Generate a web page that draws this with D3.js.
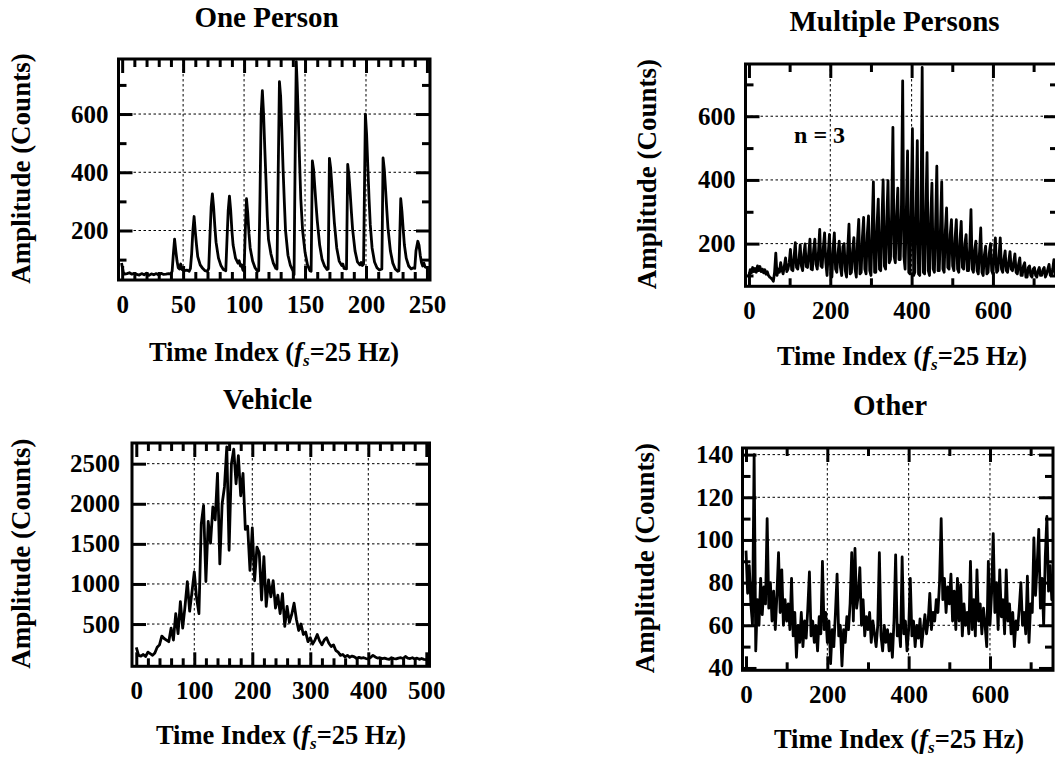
<!DOCTYPE html>
<html>
<head>
<meta charset="utf-8">
<script src="https://cdn.jsdelivr.net/npm/d3@7"></script>
<style>
  html, body { margin: 0; padding: 0; background: #fff; overflow: hidden; }
  svg { display: block; }
  text { font-family: "Liberation Serif", "Times New Roman", Times, serif; font-weight: bold; fill: #000; }
</style>
</head>
<body>
<div id="chart"></div>
<script>
// One Person: vertices [time index, counts]
var onePerson = [
  [-0.5,88],[1,55],[2,50],[4,52],[6,55],[8,50],[10,53],[12,49],[14,47],[16,52],[18,48],[20,53],[22,46],[24,51],[26,48],[28,52],[30,47],[32,53],[34,49],[36,50],[38,52],[40,51],
  [41,60],[42,120],[43,170],[44,130],[45,95],[46,72],[47,68],[48,85],[49,66],[51,62],[53,64],[55,60],[56,70],
  [57,120],[58,200],[59,248],[60,195],[61,150],[62,110],[64,82],[66,70],[68,62],[70,60],[71,70],
  [72,180],[73,280],[74,326],[75,280],[76,215],[77,160],[79,105],[81,80],[83,66],[85,62],
  [86,170],[87,270],[88,318],[89,270],[90,200],[91,150],[93,105],[95,88],[96,96],[97,78],[98,82],[99,65],[100,60],
  [101,200],[102,309],[103,260],[104,190],[105,140],[107,95],[109,72],[111,60],[112,62],
  [113,300],[114,600],[115,680],[116,600],[117,480],[118,370],[119,250],[120,170],[122,120],[124,88],[126,70],[127,68],
  [128,400],[129,711],[130,660],[131,540],[132,410],[133,300],[134,200],[136,115],[138,80],[140,62],[141,48],
  [142,500],[142.8,780],[143.5,710],[144.5,585],[145.5,440],[146.5,310],[148,200],[150,125],[152,82],[154,62],[155,60],
  [156,439],[157,410],[158,350],[159,290],[160,235],[162,150],[164,100],[166,78],[168,66],[169,68],
  [170,448],[171,415],[172,355],[173,290],[174,230],[176,140],[178,95],[180,80],[181,85],[182,70],[184,68],
  [185,427],[186,390],[187,330],[188,265],[189,205],[191,130],[193,92],[195,82],[196,90],[197,80],[198,84],
  [199.5,600],[200.5,530],[201.5,420],[202.5,310],[203.5,220],[205,140],[207,92],[209,72],[211,64],[213,68],
  [214,449],[215,410],[216,345],[217,275],[218,210],[220,130],[222,88],[224,68],[226,60],[227,62],
  [228.5,309],[229.5,265],[230.5,205],[231.5,150],[233,105],[235,78],[237,68],[239,72],[240,70],
  [241,130],[242.5,163],[243.5,150],[244.5,115],[245.5,90],[246.5,78],[247.5,88],[248.5,75],[250,72]
];

// Multiple Persons: counts every 3 samples, t = 0, 3, ..., 756
var multiStep = 3;
var multiAmp = [
  100,118,108,125, 112,122,110,130, 115,128,112,120, 108,118,104,112, 100,95,92,88,
  82,110,170,100, 120,110,140,118, 105,130,155,112, 120,140,182,118, 115,160,203,125,
  120,150,196,130, 115,165,199,128, 125,170,214,120, 118,180,214,135, 120,175,245,130,
  125,190,234,140, 100,170,229,110, 95,185,234,120, 110,170,208,125, 100,190,200,115,
  95,185,261,105, 110,180,219,120, 95,210,276,105, 110,220,282,120, 105,230,287,115,
  100,250,394,110, 110,260,340,120, 115,270,400,130, 120,280,398,140, 150,300,565,160,
  140,290,374,150, 150,320,711,160, 120,300,491,110, 105,320,561,100, 110,300,523,105,
  100,280,753,110, 105,300,486,115, 100,280,390,120, 110,260,443,115, 115,250,394,120,
  110,240,312,125, 120,230,275,130, 115,220,275,120, 110,210,270,125, 120,200,228,115,
  115,190,307,120, 110,180,208,115, 105,175,249,110, 100,165,192,105, 110,170,200,115,
  105,165,218,110, 115,160,218,120, 110,150,177,115, 110,145,175,120, 115,140,168,110,
  105,135,155,100, 100,130,140,95, 95,125,130,100, 95,120,125,100, 95,115,125,100,
  100,118,125,95, 105,120,135,100, 100,120,150,105, 115
];

// Vehicle: counts every 4 samples, t = 0, 4, ..., 500
var vehicleStep = 4;
var vehicleAmp = [
  210,110,100,120,95,150,130,110,140,210,240,350,320,300,280,450,300,630,380,780,450,720,1030,660,900,
  1150,820,630,1750,1980,1030,1780,1510,1960,1800,2380,1250,2000,2210,2710,1420,2500,2680,2250,2600,2100,2380,1680,1720,1170,
  1700,1040,1460,1390,800,1340,720,1050,840,1040,700,860,630,880,470,720,520,620,760,560,420,500,370,400,280,
  330,250,300,370,290,240,300,330,260,220,240,170,150,110,120,90,110,85,100,90,70,85,75,80,70,
  65,85,110,90,75,80,70,75,65,60,80,70,65,75,80,70,95,75,70,80,65,75,60,70,60,55
];

// Other: counts every 4 samples, t = 0, 4, ..., 756
var otherStep = 4;
var otherAmp = [
  95,75,88,70,60,140,48,72,60,82,65,78,70,110,68,80,62,76,58,74,94,66,86,60,72,
  62,70,58,82,55,66,45,60,52,66,50,62,54,68,85,55,62,52,60,48,64,56,90,58,66,
  52,62,42,58,50,66,84,55,60,41,58,52,64,58,70,94,62,96,68,74,87,60,72,55,64,
  58,66,52,62,56,50,60,94,55,48,60,52,58,48,56,45,62,93,55,60,50,92,56,62,48,
  58,82,55,62,50,60,54,63,50,58,65,56,62,75,58,66,62,72,66,80,110,72,82,66,78,
  70,84,62,76,58,82,62,79,55,70,60,66,56,90,58,72,55,86,62,70,56,68,60,50,90,
  60,75,103,66,80,58,86,64,72,56,86,62,70,56,66,50,62,58,68,80,60,66,56,83,52,
  70,66,101,74,88,105,68,82,60,92,111,76,88,72,84
];

var onePersonXTicks = [0, 50, 100, 150, 200, 250];
var onePersonYTicks = [200, 400, 600];
var multiXTicks = [0, 200, 400, 600];
var multiYTicks = [200, 400, 600];
var vehicleXTicks = [0, 100, 200, 300, 400, 500];
var vehicleYTicks = [500, 1000, 1500, 2000, 2500];
var otherXTicks = [0, 200, 400, 600];
var otherYTicks = [40, 60, 80, 100, 120, 140];

function stepped(arr, step) {
  return arr.map(function(v, i) { return [i * step, v]; });
}

var svg = d3.select('#chart').append('svg')
  .attr('width', 1055)
  .attr('height', 759);

var panels = [
  {id: 'p1', title: 'One Person', data: onePerson,
   left: 118.5, right: 430, top: 59, bottom: 280,
   xDomain: [-3, 252.5], yDomain: [30, 789],
   xTicks: onePersonXTicks, xMinor: 10, yTicks: onePersonYTicks, yMinor: 100,
   xGrid: [50, 100, 150, 200], yGrid: [200, 400, 600],
   titleX: 266.5, titleY: 27, yLabX: 30, xLabX: 274, xLabY: 361, yPad: 10},
  {id: 'p2', title: 'Multiple Persons', data: stepped(multiAmp, multiStep),
   left: 745.5, right: 1058, top: 64, bottom: 286.3,
   xDomain: [-8.5, 760], yDomain: [66, 764],
   xTicks: multiXTicks, xMinor: 100, yTicks: multiYTicks, yMinor: 100,
   xGrid: [200, 400, 600], yGrid: [200, 400, 600],
   titleX: 894.5, titleY: 31, yLabX: 656, xLabX: 902, xLabY: 365, yPad: 10,
   note: {text: 'n = 3', x: 111, y: 517}},
  {id: 'p3', title: 'Vehicle', data: stepped(vehicleAmp, vehicleStep),
   left: 132, right: 429.5, top: 443, bottom: 666.3,
   xDomain: [-7.4, 505.5], yDomain: [-27, 2758],
   xTicks: vehicleXTicks, xMinor: 20, yTicks: vehicleYTicks, yMinor: null,
   xGrid: [100, 200, 300, 400], yGrid: [500, 1000, 1500, 2000, 2500],
   titleX: 267.5, titleY: 409, yLabX: 30, xLabX: 281, xLabY: 744, yPad: 12},
  {id: 'p4', title: 'Other', data: stepped(otherAmp, otherStep),
   left: 742.5, right: 1053, top: 448, bottom: 670.3,
   xDomain: [-8.6, 755], yDomain: [38.9, 143.1],
   xTicks: otherXTicks, xMinor: 100, yTicks: otherYTicks, yMinor: 10,
   xGrid: [200, 400, 600], yGrid: [60, 80, 100, 120, 140],
   titleX: 890, titleY: 415, yLabX: 654, xLabX: 899, xLabY: 748, yPad: 9}
];

panels.forEach(drawPanel);

function minorTicks(domain, step, major) {
  if (!step) return [];
  return d3.range(Math.ceil(domain[0] / step) * step, domain[1] + 1e-9, step)
    .filter(function(v) { return major.indexOf(v) < 0; });
}

function drawPanel(p) {
  var g = svg.append('g').attr('class', 'panel');
  var x = d3.scaleLinear().domain(p.xDomain).range([p.left, p.right]);
  var y = d3.scaleLinear().domain(p.yDomain).range([p.bottom, p.top]);
  var w = p.right - p.left, h = p.bottom - p.top;

  g.append('clipPath').attr('id', 'clip-' + p.id)
    .append('rect')
      .attr('x', p.left).attr('y', p.top)
      .attr('width', w).attr('height', h);

  // dotted grid
  g.selectAll('.vgrid').data(p.xGrid).enter()
    .append('line')
      .attr('x1', function(d) { return x(d); })
      .attr('x2', function(d) { return x(d); })
      .attr('y1', p.top).attr('y2', p.bottom)
      .style('stroke', '#000').style('stroke-width', 1)
      .style('stroke-dasharray', '2.5,2.5');
  g.selectAll('.hgrid').data(p.yGrid).enter()
    .append('line')
      .attr('y1', function(d) { return y(d); })
      .attr('y2', function(d) { return y(d); })
      .attr('x1', p.left).attr('x2', p.right)
      .style('stroke', '#000').style('stroke-width', 1)
      .style('stroke-dasharray', '2.5,2.5');

  var line = d3.line()
    .x(function(d) { return x(d[0]); })
    .y(function(d) { return y(d[1]); });

  g.append('path')
    .datum(p.data)
    .attr('clip-path', 'url(#clip-' + p.id + ')')
    .attr('d', line)
    .style('fill', 'none')
    .style('stroke', '#000')
    .style('stroke-width', 2.8)
    .style('stroke-linejoin', 'round');

  var xMin = minorTicks(p.xDomain, p.xMinor, p.xTicks);
  var yMin = minorTicks(p.yDomain, p.yMinor, p.yTicks);
  var fmt = d3.format('d');

  function addAxis(axis, tx, ty, labels) {
    var a = g.append('g')
      .attr('transform', 'translate(' + tx + ',' + ty + ')')
      .call(axis);
    a.select('.domain').remove();
    a.selectAll('.tick line').style('stroke-width', 3);
    if (labels) {
      a.selectAll('.tick text')
        .style('font-family', '"Liberation Serif", "Times New Roman", serif')
        .style('font-weight', 'bold')
        .style('font-size', '25px')
        .style('fill', '#000');
    } else {
      a.selectAll('.tick text').remove();
    }
  }

  addAxis(d3.axisBottom(x).tickValues(p.xTicks).tickFormat(fmt).tickSize(-14).tickPadding(15), 0, p.bottom, true);
  addAxis(d3.axisTop(x).tickValues(p.xTicks).tickSize(-14), 0, p.top, false);
  addAxis(d3.axisBottom(x).tickValues(xMin).tickSize(-8), 0, p.bottom, false);
  addAxis(d3.axisTop(x).tickValues(xMin).tickSize(-8), 0, p.top, false);
  addAxis(d3.axisLeft(y).tickValues(p.yTicks).tickFormat(fmt).tickSize(-14).tickPadding(p.yPad), p.left, 0, true);
  addAxis(d3.axisRight(y).tickValues(p.yTicks).tickSize(-14), p.right, 0, false);
  addAxis(d3.axisLeft(y).tickValues(yMin).tickSize(-8), p.left, 0, false);
  addAxis(d3.axisRight(y).tickValues(yMin).tickSize(-8), p.right, 0, false);

  g.append('rect')
    .attr('x', p.left).attr('y', p.top)
    .attr('width', w).attr('height', h)
    .style('fill', 'none').style('stroke', '#000').style('stroke-width', 3);

  g.append('text')
    .attr('x', p.titleX).attr('y', p.titleY)
    .attr('text-anchor', 'middle')
    .style('font-size', '29px')
    .text(p.title);

  g.append('text')
    .attr('transform', 'translate(' + p.yLabX + ',' + ((p.top + p.bottom) / 2 - 1) + ') rotate(-90)')
    .attr('text-anchor', 'middle')
    .style('font-size', '27px')
    .text('Amplitude (Counts)');

  var xl = g.append('text')
    .attr('x', p.xLabX).attr('y', p.xLabY)
    .attr('text-anchor', 'middle')
    .style('font-size', '26.5px');
  xl.append('tspan').text('Time Index (');
  xl.append('tspan').style('font-style', 'italic').text('f');
  xl.append('tspan').style('font-style', 'italic').style('font-size', '17px')
    .attr('dy', 5).text('s');
  xl.append('tspan').attr('dy', -5).text('=25 Hz)');

  if (p.note) {
    g.append('text')
      .attr('x', x(p.note.x)).attr('y', y(p.note.y))
      .style('font-size', '24px')
      .text(p.note.text);
  }
}
</script>
</body>
</html>
